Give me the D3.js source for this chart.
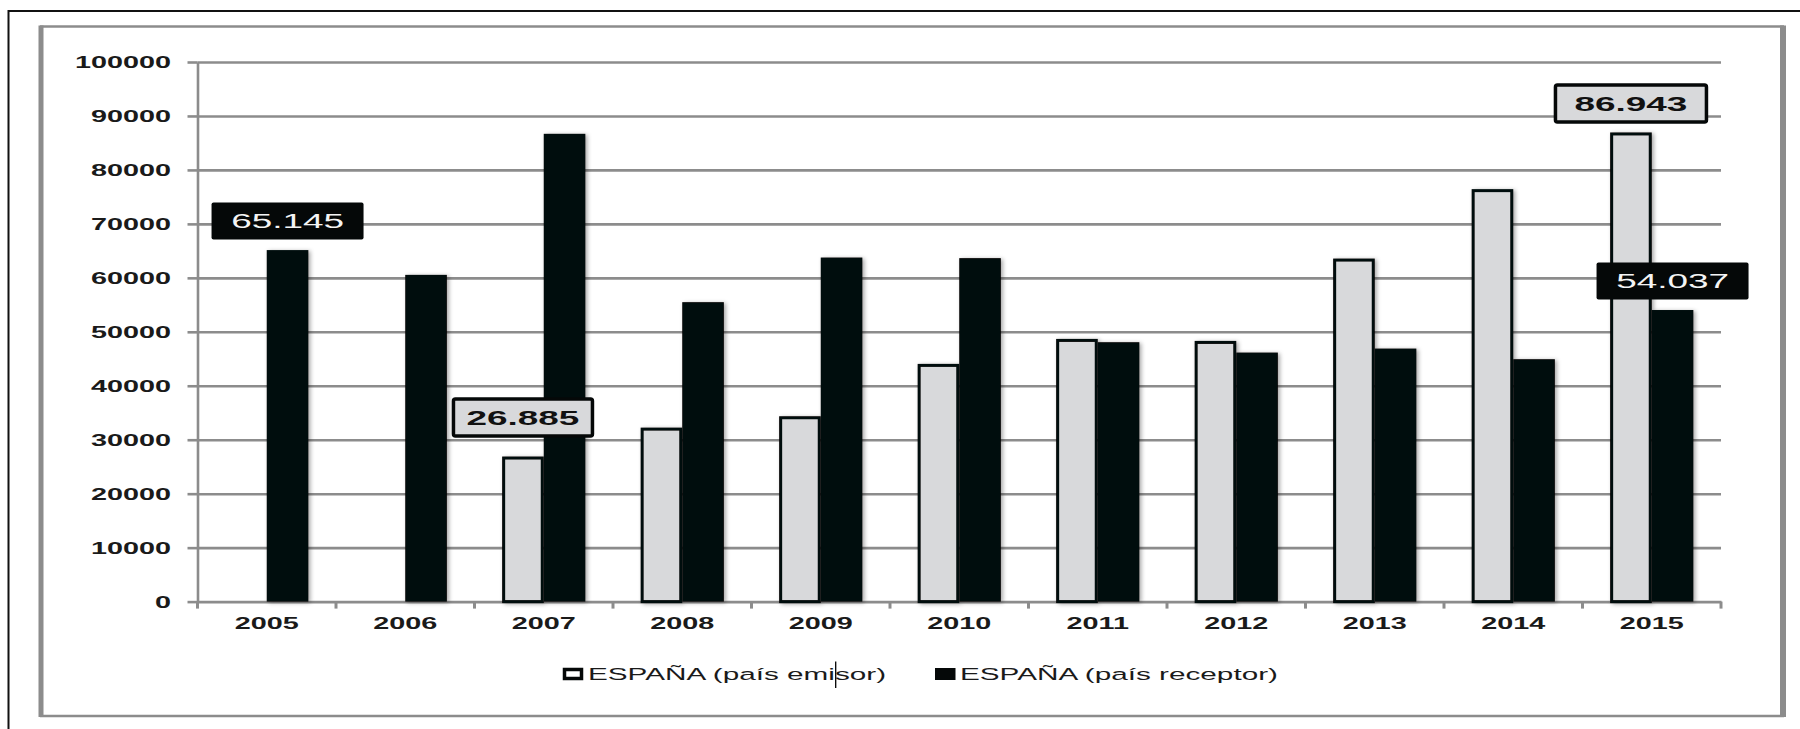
<!DOCTYPE html>
<html><head><meta charset="utf-8">
<script src="https://cdn.jsdelivr.net/npm/d3@7"></script>
<style>html,body{margin:0;padding:0;background:#fff;}svg{display:block;}</style>
</head><body>
<svg id="chart" width="1800" height="729"></svg>
<script>
const years = ["2005","2006","2007","2008","2009","2010","2011","2012","2013","2014","2015"];
const emisor = [null, null, 26885, 32240, 34350, 44050, 48680, 48310, 63570, 76440, 86943];
const receptor = [65145, 60550, 86690, 55490, 63760, 63650, 48070, 46150, 46890, 44920, 54037];
const yTicks = [0,10000,20000,30000,40000,50000,60000,70000,80000,90000,100000];
const seriesKeys = ["emisor","receptor"];
const seriesNames = ["ESPAÑA (país emisor)","ESPAÑA (país receptor)"];
const callouts = [
  {key:"receptor", year:"2005", value:65145, dark:true,  dy:-29, w:152},
  {key:"emisor",   year:"2007", value:26885, dark:false, dy:-39, w:139},
  {key:"emisor",   year:"2015", value:86943, dark:false, dy:-29, w:151},
  {key:"receptor", year:"2015", value:54037, dark:true,  dy:-29, w:152}
];

(function(){
const SX = 1.8;
const FONT = "'Liberation Sans', Arial, sans-serif";
const GRID = "#8c8c8c";
const BLACK = "#050808";
const LIGHT = "#d8d9db";

const svg = d3.select("#chart");
const defs = svg.append("defs");
const f = defs.append("filter").attr("id","sh").attr("x","-30%").attr("y","-10%").attr("width","160%").attr("height","130%");
f.append("feDropShadow").attr("dx",2).attr("dy",1).attr("stdDeviation",2.2).attr("flood-color","#000").attr("flood-opacity",0.35);

// frames
svg.append("rect").attr("x",8.5).attr("y",11).attr("width",1810).attr("height",800)
  .attr("fill","none").attr("stroke","#111").attr("stroke-width",2);
svg.append("line").attr("x1",40).attr("x2",1784).attr("y1",26.5).attr("y2",26.5).attr("stroke",GRID).attr("stroke-width",2.5);
svg.append("line").attr("x1",40).attr("x2",1784).attr("y1",716).attr("y2",716).attr("stroke",GRID).attr("stroke-width",2.5);
svg.append("line").attr("x1",41).attr("x2",41).attr("y1",25.5).attr("y2",717).attr("stroke",GRID).attr("stroke-width",5);
svg.append("line").attr("x1",1783).attr("x2",1783).attr("y1",25.5).attr("y2",717).attr("stroke",GRID).attr("stroke-width",6);

const pLeft = 197.5, pRight = 1721, pTop = 62, pBottom = 601.6;
const x = d3.scaleBand().domain(years).range([pLeft,pRight]).paddingInner(0).paddingOuter(0);
const x1 = d3.scaleBand().domain(seriesKeys).range([0,x.bandwidth()]).paddingInner(0).paddingOuter(0.665);
const y = d3.scaleLinear().domain([0,100000]).range([pBottom,pTop]);

// gridlines
const grid = svg.append("g").attr("transform",`translate(${pLeft},0)`)
  .call(d3.axisLeft(y).tickValues(yTicks.slice(1)).tickSize(-(pRight-pLeft)).tickFormat(""));
grid.select(".domain").remove();
grid.selectAll("line").attr("stroke",GRID).attr("stroke-width",2.6);

// y axis
const ya = svg.append("g").attr("transform",`translate(${pLeft},0)`)
  .call(d3.axisLeft(y).tickValues(yTicks).tickSize(10).tickSizeOuter(0).tickPadding(0).tickFormat(d=>String(d)));
ya.select(".domain").attr("stroke",GRID).attr("stroke-width",2.6);
ya.selectAll(".tick line").attr("stroke",GRID).attr("stroke-width",2.6);
ya.selectAll(".tick text").attr("x",-26.5/SX).attr("dy","0.36em").attr("transform",`scale(${SX},1)`)
  .attr("font-family",FONT).attr("font-size",16).attr("font-weight","bold").attr("fill","#1a1a1a");

// x axis
const xa = svg.append("g").attr("transform",`translate(0,${pBottom})`)
  .call(d3.axisBottom(x).tickSize(0).tickSizeOuter(0));
xa.select(".domain").attr("stroke",GRID).attr("stroke-width",2.6);
xa.selectAll(".tick text").attr("y",27.5).attr("dy",0).attr("transform",`scale(${SX},1)`)
  .attr("font-family",FONT).attr("font-size",16).attr("font-weight","bold").attr("fill","#1a1a1a");
const bounds = years.map(d=>x(d)).concat([x(years[years.length-1])+x.bandwidth()]);
svg.append("g").selectAll("line").data(bounds).join("line")
  .attr("x1",d=>d).attr("x2",d=>d).attr("y1",pBottom).attr("y2",pBottom+7)
  .attr("stroke",GRID).attr("stroke-width",3);

// bars
const rows = years.map((yr,i)=>({year:yr, emisor:emisor[i], receptor:receptor[i]}));
const bars = svg.append("g").attr("filter","url(#sh)");
const bw = x1.bandwidth();
bars.selectAll("rect.em").data(rows.filter(r=>r.emisor!=null)).join("rect").attr("class","em")
  .attr("x",d=>x(d.year)+x1("emisor")+1.5).attr("y",d=>y(d.emisor)+1.5)
  .attr("width",bw-3).attr("height",d=>pBottom-y(d.emisor)-1.5)
  .attr("fill",LIGHT).attr("stroke",BLACK).attr("stroke-width",3);
bars.selectAll("rect.re").data(rows.filter(r=>r.receptor!=null)).join("rect").attr("class","re")
  .attr("x",d=>x(d.year)+x1("receptor")).attr("y",d=>y(d.receptor))
  .attr("width",bw).attr("height",d=>pBottom-y(d.receptor))
  .attr("fill",BLACK);

// callouts
const fmt = d3.formatLocale({decimal:",", thousands:".", grouping:[3], currency:["",""]}).format(",");
const cg = svg.append("g");
callouts.forEach(c=>{
  const cx = x(c.year)+x1(c.key)+bw/2;
  const cy = y(c.value)+c.dy;
  const w = c.w, h = 37;
  cg.append("rect").attr("x",cx-w/2).attr("y",cy-h/2).attr("width",w).attr("height",h).attr("rx",2)
    .attr("fill",c.dark?BLACK:LIGHT).attr("stroke",BLACK).attr("stroke-width",c.dark?0:3.5);
  cg.append("g").attr("transform",`translate(${cx},${cy+7.3}) scale(${SX},1)`)
    .append("text").attr("text-anchor","middle").attr("font-family",FONT).attr("font-size",20.5)
    .attr("font-weight",c.dark?"normal":"bold").attr("fill",c.dark?"#f4f4f4":"#111").text(fmt(c.value));
});

// legend
const lg = svg.append("g");
const legItems = [{key:"emisor", x:563, name:seriesNames[0]},{key:"receptor", x:935, name:seriesNames[1]}];
legItems.forEach(it=>{
  if(it.key==="emisor"){
    lg.append("rect").attr("x",it.x+1.5).attr("y",669.5).attr("width",17).attr("height",9)
      .attr("fill","#fff").attr("stroke",BLACK).attr("stroke-width",3.5);
  } else {
    lg.append("rect").attr("x",it.x).attr("y",668).attr("width",20.5).attr("height",12).attr("fill",BLACK);
  }
  lg.append("g").attr("transform",`translate(${it.x+25},680) scale(${SX},1)`)
    .append("text").attr("font-family",FONT).attr("font-size",16.5).attr("fill","#1a1a1a").text(it.name);
});
lg.append("line").attr("x1",835.7).attr("x2",835.7).attr("y1",661.5).attr("y2",688).attr("stroke","#000").attr("stroke-width",1.3);
})();
</script>
</body></html>
